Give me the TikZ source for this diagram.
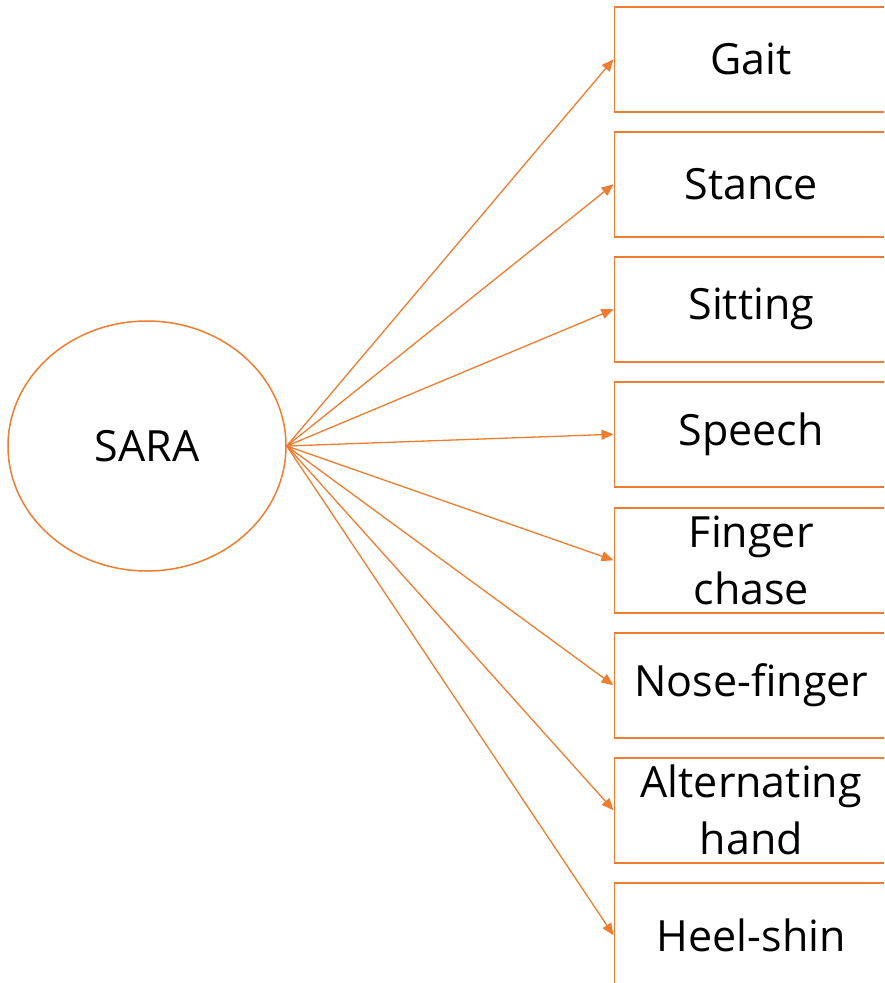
\documentclass[tikz,border=0pt]{standalone}
\usepackage{fontspec}
\setmainfont{Open Sans}
\usetikzlibrary{arrows.meta,shapes.geometric}
\definecolor{accent}{RGB}{237,125,49}
\tikzset{
  itembox/.style={draw=accent, line width=1.5pt, rectangle, anchor=north west,
    minimum width=274pt, minimum height=105pt, inner sep=0pt, align=center,
    font=\fontsize{43}{57}\selectfont},
  rootnode/.style={draw=accent, line width=1.5pt, ellipse, minimum width=278pt,
    minimum height=250pt, inner sep=0pt, font=\fontsize{43}{57}\selectfont},
  link/.style={draw=accent, line width=1.3pt, -{Triangle[length=12pt,width=10pt]}}
}
\begin{document}
\begin{tikzpicture}[x=1pt,y=-1pt]
  \clip (0,0) rectangle (884,983);
  \fill[white] (0,0) rectangle (884,983);
  \node[rootnode] (sara) at (147,446) {SARA};
  \node[itembox] (gait)    at (613.5,6)   {Gait};
  \node[itembox] (stance)  at (613.5,131) {Stance};
  \node[itembox] (sitting) at (613.5,256) {Sitting};
  \node[itembox] (speech)  at (613.5,381) {Speech};
  \node[itembox] (finger)  at (613.5,507) {Finger\\chase};
  \node[itembox] (nose)    at (613.5,632) {Nose-finger};
  \node[itembox] (alt)     at (613.5,757) {Alternating\\hand};
  \node[itembox] (heel)    at (613.5,882) {Heel-shin};
  \foreach \t in {gait,stance,sitting,speech,finger,nose,alt,heel}
    \draw[link] (sara.east) -- (\t.west);
\end{tikzpicture}
\end{document}
